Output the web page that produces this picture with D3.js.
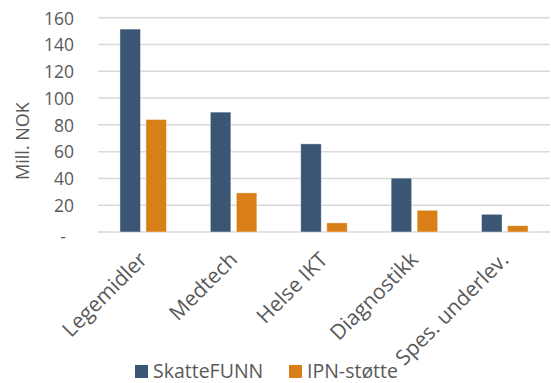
<!DOCTYPE html>
<html><head><meta charset="utf-8">
<script src="https://cdn.jsdelivr.net/npm/d3@7"></script>
<style>body{margin:0;background:#fff}svg{display:block}</style>
</head><body>
<script>
const categories = ["Legemidler", "Medtech", "Helse IKT", "Diagnostikk", "Spes. underlev."];
const seriesNames = ["SkatteFUNN", "IPN-støtte"];
const skattefunn = [151.5, 89.5, 65.8, 40.2, 13.2];
const ipn = [84, 29.2, 6.8, 16.2, 4.7];
const yTicks = [0, 20, 40, 60, 80, 100, 120, 140, 160];
const colors = ["#3B5675", "#D97F17"];

const W = 551, H = 383;
const font = "'Open Sans', sans-serif";
const textColor = "#595959";
const svg = d3.select("body").append("svg").attr("width", W).attr("height", H);

const x0 = d3.scaleBand().domain(categories).range([98, 550]).paddingInner(0).paddingOuter(0);
const y = d3.scaleLinear().domain([0, 160]).range([232, 17.7]);

// gridlines
svg.append("g").selectAll("line").data(yTicks).join("line")
  .attr("x1", 98).attr("x2", 550)
  .attr("y1", d => y(d)).attr("y2", d => y(d))
  .attr("stroke", "#d9d9d9").attr("stroke-width", 1.5);

// y axis via d3 axis
const yAxis = d3.axisLeft(y).tickValues(yTicks).tickSize(0).tickPadding(0)
  .tickFormat(d => d === 0 ? "-" : d);
const yg = svg.append("g").attr("transform", "translate(74,0)").call(yAxis);
yg.select(".domain").remove();
yg.selectAll("text").attr("font-family", font).attr("font-size", 17.5).attr("fill", textColor)
  .attr("dy", "0.36em");
yg.selectAll(".tick").filter(d => d === 0).select("text").attr("dx", -8).attr("dy", "0.6em");

// y title
svg.append("text").attr("transform", "translate(29,141) rotate(-90)")
  .attr("text-anchor", "middle").attr("font-family", font).attr("font-size", 18)
  .attr("fill", textColor).text("Mill. NOK");

// bars
const data = categories.map((c, i) => ({ c, vals: [skattefunn[i], ipn[i]] }));
const barW = 20.5, gap = 5.5;
const groups = svg.append("g").selectAll("g").data(data).join("g")
  .attr("transform", d => `translate(${x0(d.c) + x0.bandwidth() / 2},0)`);
groups.selectAll("rect").data(d => d.vals.map((v, k) => ({ v, k }))).join("rect")
  .attr("x", d => d.k === 0 ? -gap / 2 - barW : gap / 2)
  .attr("width", barW)
  .attr("y", d => y(d.v))
  .attr("height", d => y(0) - y(d.v))
  .attr("fill", d => colors[d.k])
  .attr("stroke", "#ffffff").attr("stroke-opacity", 0.5).attr("stroke-width", 0.8);

// x axis labels
const xAxis = d3.axisBottom(x0).tickSize(0).tickPadding(0);
const xg = svg.append("g").attr("transform", "translate(0,232)").call(xAxis);
xg.select(".domain").remove();
xg.selectAll("text").attr("font-family", font).attr("font-size", 21).attr("fill", textColor)
  .attr("text-anchor", "end").attr("dy", 0).attr("y", 0)
  .attr("transform", "translate(5,29) rotate(-45)");

// legend
const legend = svg.append("g");
const legX = [135, 289];
seriesNames.forEach((s, i) => {
  legend.append("rect").attr("x", legX[i]).attr("y", 365).attr("width", 13).attr("height", 13)
    .attr("fill", colors[i]);
  legend.append("text").attr("x", legX[i] + 18).attr("y", 377.5)
    .attr("font-family", font).attr("font-size", 19.5).attr("fill", textColor).text(s);
});
</script>
</body></html>
